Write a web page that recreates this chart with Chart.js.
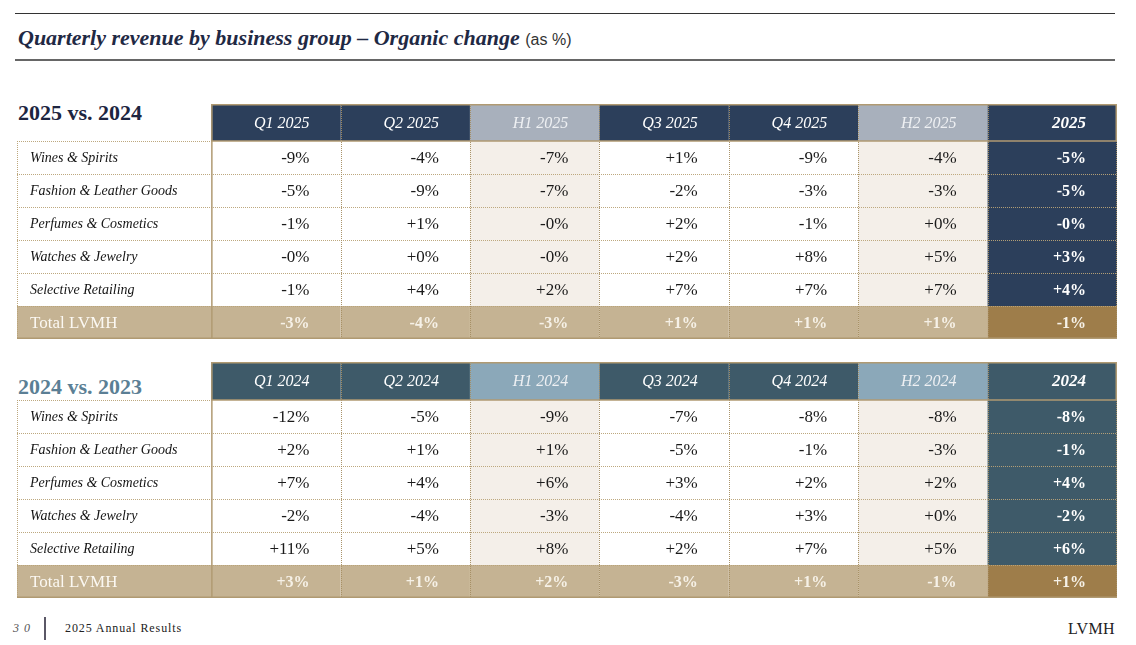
<!DOCTYPE html>
<html><head><meta charset="utf-8">
<script src="https://cdn.jsdelivr.net/npm/chart.js@4.4.1/dist/chart.umd.min.js"></script>
<style>
html,body{margin:0;padding:0;background:#fff;width:1136px;height:645px;overflow:hidden;position:relative;font-family:"Liberation Serif",serif;}
.abs{position:absolute;white-space:nowrap;}
#topline{left:15px;top:13px;width:1100px;height:1px;background:#333;}
#title{left:18px;top:24px;font:italic bold 22px "Liberation Serif",serif;color:#1f2944;line-height:27px;}
#title span{font:16px "Liberation Sans",sans-serif;color:#333;}
#midline{left:15px;top:59px;width:1100px;height:2px;background:#666;}
#h1{left:18px;top:100px;font:bold 22px "Liberation Serif",serif;color:#1d2540;line-height:26px;}
#h2{left:18px;top:374px;font:bold 22px "Liberation Serif",serif;color:#5b7f95;line-height:26px;}
#pg{left:13px;top:620px;font:italic 12px "Liberation Serif",serif;color:#555;letter-spacing:1px;line-height:16px;}
#bar{left:44px;top:617px;width:2px;height:23px;background:#5a5766;}
#ar{left:65px;top:620px;font:12px "Liberation Serif",serif;color:#222;letter-spacing:0.9px;line-height:16px;}
#logo{left:1068px;top:619px;font:16px "Liberation Serif",serif;color:#222;letter-spacing:0.3px;line-height:20px;}
#c1wrap{left:0;top:94px;width:1136px;height:256px;}
#c2wrap{left:0;top:352px;width:1136px;height:257px;}
</style>
</head>
<body>
<div class="abs" id="topline"></div>
<div class="abs" id="title">Quarterly revenue by business group – Organic change <span>(as %)</span></div>
<div class="abs" id="midline"></div>
<div class="abs" id="h1">2025 vs. 2024</div>
<div class="abs" id="h2">2024 vs. 2023</div>
<div class="abs" id="c1wrap"><canvas id="c1" width="1136" height="256"></canvas></div>
<div class="abs" id="c2wrap"><canvas id="c2" width="1136" height="257"></canvas></div>
<div class="abs" id="pg">3 0</div>
<div class="abs" id="bar"></div>
<div class="abs" id="ar">2025 Annual Results</div>
<div class="abs" id="logo">LVMH</div>
<script>
// ---- data ----
const groups = ['Wines & Spirits','Fashion & Leather Goods','Perfumes & Cosmetics','Watches & Jewelry','Selective Retailing','Total LVMH'];
const periods2025 = ['Q1 2025','Q2 2025','H1 2025','Q3 2025','Q4 2025','H2 2025','2025'];
const periods2024 = ['Q1 2024','Q2 2024','H1 2024','Q3 2024','Q4 2024','H2 2024','2024'];
// 2025 vs. 2024 (organic change, %; -0 means a negative value rounded to 0)
const wines2025     = [-9, -4, -7,  1, -9, -4, -5];
const fashion2025   = [-5, -9, -7, -2, -3, -3, -5];
const perfumes2025  = [-1,  1, -0,  2, -1,  0, -0];
const watches2025   = [-0,  0, -0,  2,  8,  5,  3];
const selective2025 = [-1,  4,  2,  7,  7,  7,  4];
const total2025     = [-3, -4, -3,  1,  1,  1, -1];
// 2024 vs. 2023
const wines2024     = [-12, -5, -9, -7, -8, -8, -8];
const fashion2024   = [  2,  1,  1, -5, -1, -3, -1];
const perfumes2024  = [  7,  4,  6,  3,  2,  2,  4];
const watches2024   = [ -2, -4, -3, -4,  3,  0, -2];
const selective2024 = [ 11,  5,  8,  2,  7,  5,  6];
const total2024     = [  3,  1,  2, -3,  1, -1,  1];

function fmt(v){ return ((v<0||Object.is(v,-0))?'-':'+') + Math.abs(v) + '%'; }

const FONT = '"Liberation Serif", serif';
const tablePlugin = {
  id: 'lvmhTable',
  afterDraw(chart, args, o){
    const ctx = chart.ctx, xs = chart.scales.x, ys = chart.scales.y;
    const X = v => xs.getPixelForValue(v), Y = v => ys.getPixelForValue(v);
    const H0 = ys.min, nR = o.rows.length, nC = o.periods.length;
    const isHalf = c => c===2 || c===5;
    ctx.save();
    // header fills
    for (let c=0;c<nC;c++){
      ctx.fillStyle = isHalf(c) ? o.halfHead : o.head;
      ctx.fillRect(X(c), Y(H0), X(c+1)-X(c), Y(0)-Y(H0));
    }
    // body fills
    for (let r=0;r<nR;r++){
      const tot = r===nR-1;
      for (let c=-1;c<nC;c++){
        const x0 = c<0 ? X(xs.min) : X(c), x1 = c<0 ? X(0) : X(c+1);
        let f;
        if (tot) f = c===nC-1 ? o.totalLast : o.total;
        else if (c===nC-1) f = o.head;
        else if (c>=0 && isHalf(c)) f = '#f4efe9';
        else f = '#ffffff';
        ctx.fillStyle = f;
        ctx.fillRect(x0, Y(r), x1-x0, Y(r+1)-Y(r));
      }
    }
    // dotted lines
    const line = (x0,y0,x1,y1) => { ctx.beginPath(); ctx.moveTo(x0,y0); ctx.lineTo(x1,y1); ctx.stroke(); };
    ctx.lineWidth = 1;
    ctx.setLineDash([1,1]);
    ctx.strokeStyle = 'rgba(185,163,120,0.95)';
    for (let r=1;r<nR;r++){ const y=Math.round(Y(r))+0.5; line(X(xs.min), y, X(nC), y); }
    line(X(xs.min), Math.round(Y(0))+0.5, X(0), Math.round(Y(0))+0.5);
    line(Math.round(X(xs.min))+0.5, Y(0), Math.round(X(xs.min))+0.5, Y(nR));
    ctx.strokeStyle = 'rgba(165,142,98,0.95)';
    for (let c=1;c<nC;c++){ const x=Math.round(X(c))+0.5; line(x, Y(H0), x, Y(nR)); }
    line(Math.round(X(nC))-0.5, Y(0), Math.round(X(nC))-0.5, Y(nR));
    // solid tan borders
    ctx.setLineDash([]);
    ctx.strokeStyle = '#b09a72';
    ctx.lineWidth = 1.5;
    line(X(0), Y(H0)+0.75, X(nC), Y(H0)+0.75);
    line(X(0), Y(0), X(nC), Y(0));
    line(X(0)+0.75, Y(H0), X(0)+0.75, Y(nR));
    line(X(nC)-0.75, Y(H0), X(nC)-0.75, Y(0));
    line(X(xs.min), Y(nR)-0.75, X(nC), Y(nR)-0.75);
    // header text
    ctx.textBaseline = 'middle';
    ctx.textAlign = 'right';
    const yh = (Y(H0)+Y(0))/2 + 1;
    for (let c=0;c<nC;c++){
      const last = c===nC-1;
      ctx.font = (last ? 'italic bold 17px ' : 'italic 16px ') + FONT;
      ctx.fillStyle = isHalf(c) ? '#eef0f3' : '#ffffff';
      ctx.fillText(o.periods[c], X(c+1)-31, yh);
    }
    // body text
    for (let r=0;r<nR;r++){
      const tot = r===nR-1, ym = (Y(r)+Y(r+1))/2 + 1;
      ctx.textAlign = 'left';
      ctx.font = (tot ? '17px ' : 'italic 14px ') + FONT;
      ctx.fillStyle = tot ? '#fbf8f2' : '#141414';
      ctx.fillText(groups[r], X(xs.min)+13, ym);
      ctx.textAlign = 'right';
      for (let c=0;c<nC;c++){
        const last = c===nC-1;
        if (tot) { ctx.font = 'bold 16px ' + FONT; ctx.fillStyle = '#f6f1e7'; }
        else if (last) { ctx.font = 'bold 16px ' + FONT; ctx.fillStyle = '#ffffff'; }
        else { ctx.font = '17px ' + FONT; ctx.fillStyle = '#1a1a1a'; }
        ctx.fillText(fmt(o.rows[r][c]), X(c+1)-31, ym);
      }
    }
    ctx.restore();
  }
};

function makeTable(id, periods, rows, headerUnits, colors){
  return new Chart(document.getElementById(id), {
    type: 'scatter',
    data: { datasets: [{ data: [], pointRadius: 0 }] },
    options: {
      responsive: false, animation: false, events: [],
      layout: { padding: { left: 17, right: 19, top: 10, bottom: 11 } },
      scales: {
        x: { type: 'linear', min: -1.5, max: periods.length, display: false },
        y: { type: 'linear', min: -headerUnits, max: rows.length, reverse: true, display: false }
      },
      plugins: {
        legend: { display: false }, tooltip: { enabled: false },
        lvmhTable: Object.assign({ periods, rows }, colors)
      }
    },
    plugins: [tablePlugin]
  });
}

makeTable('c1', periods2025,
  [wines2025, fashion2025, perfumes2025, watches2025, selective2025, total2025],
  37/33,
  { head: '#2c3f5b', halfHead: '#a8b0bc', total: '#c5b393', totalLast: '#9e7d4a' });
makeTable('c2', periods2024,
  [wines2024, fashion2024, perfumes2024, watches2024, selective2024, total2024],
  38/33,
  { head: '#3e5a69', halfHead: '#8ba8b9', total: '#c5b393', totalLast: '#9e7d4a' });
</script>
</body></html>
